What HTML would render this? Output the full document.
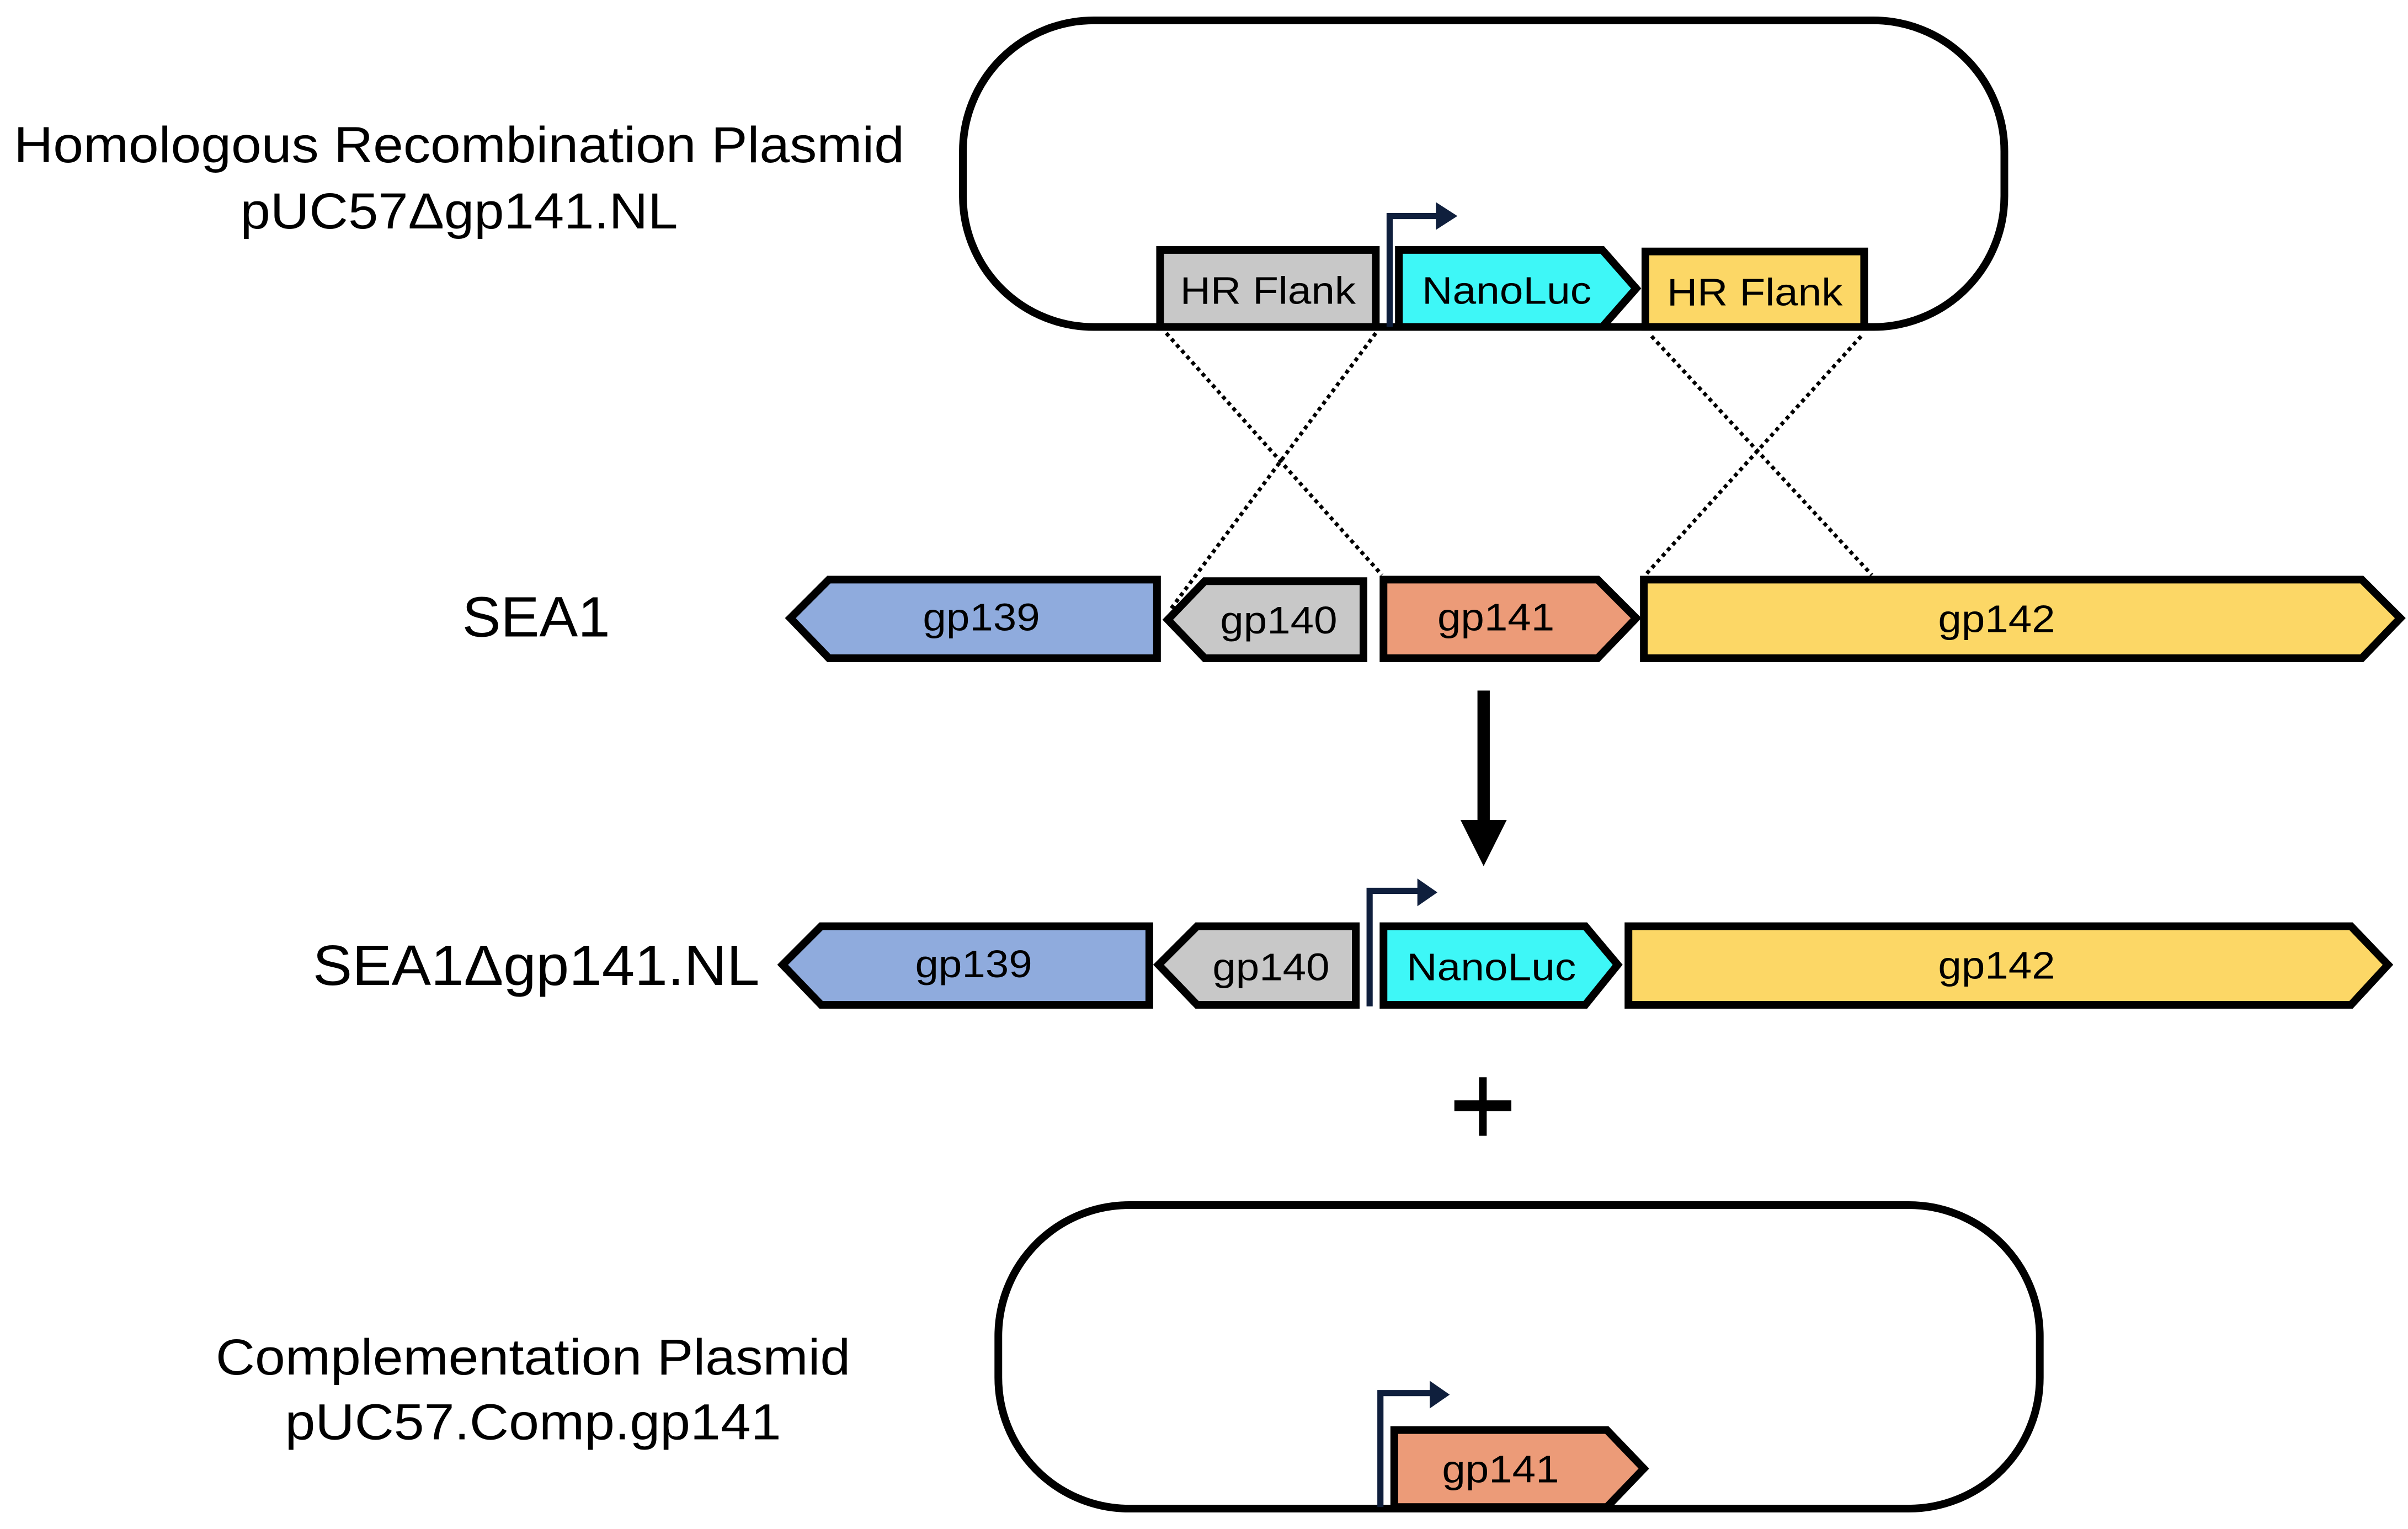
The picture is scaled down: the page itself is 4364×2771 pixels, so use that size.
<!DOCTYPE html>
<html><head><meta charset="utf-8"><style>
html,body{margin:0;padding:0;background:#fff;}
svg{display:block;}
text{font-family:"Liberation Sans",Arial,sans-serif;fill:#000;}
</style></head><body>
<svg width="4364" height="2771" viewBox="0 0 1563 992" xmlns="http://www.w3.org/2000/svg" font-family="Liberation Sans, Arial, sans-serif">
<rect x="0" y="0" width="1563" height="992" fill="#fff"/>
<g font-size="33" text-anchor="middle" font-family="Liberation Sans, Arial, sans-serif">
<text x="298" y="105" textLength="578" lengthAdjust="spacingAndGlyphs">Homologous Recombination Plasmid</text>
<text x="298" y="148" textLength="284" lengthAdjust="spacingAndGlyphs">pUC57Δgp141.NL</text>
<text x="346" y="892" textLength="412" lengthAdjust="spacingAndGlyphs">Complementation Plasmid</text>
<text x="346" y="934" textLength="322" lengthAdjust="spacingAndGlyphs">pUC57.Comp.gp141</text>
</g>
<text x="348" y="413" font-size="37" text-anchor="middle" textLength="96" lengthAdjust="spacingAndGlyphs">SEA1</text>
<text x="348" y="639" font-size="37" text-anchor="middle" textLength="290" lengthAdjust="spacingAndGlyphs">SEA1Δgp141.NL</text>

<rect x="625" y="13" width="676" height="199" rx="85" ry="85" fill="none" stroke="#000" stroke-width="5"/>
<g stroke="#000" stroke-width="5">
<rect x="753" y="162" width="140" height="50" fill="#c8c8c8"/>
<polygon points="908,162 1040,162 1062,187 1040,212 908,212" fill="#3ef7f7"/>
<rect x="1068" y="163" width="142" height="49" fill="#fcd766"/>
</g>
<path d="M902,212 V140 H935" fill="none" stroke="#0f1f3d" stroke-width="4"/>
<polygon points="932,131 946,140 932,149" fill="#0f1f3d"/>
<g font-size="25" text-anchor="middle">
<text x="823" y="197" textLength="114" lengthAdjust="spacingAndGlyphs">HR Flank</text>
<text x="978" y="197" textLength="110" lengthAdjust="spacingAndGlyphs">NanoLuc</text>
<text x="1139" y="198" textLength="114" lengthAdjust="spacingAndGlyphs">HR Flank</text>
</g>

<g stroke="#000" stroke-width="2.5" stroke-dasharray="2.5,2.5">
<line x1="757" y1="216" x2="897" y2="373"/>
<line x1="893" y1="216" x2="760" y2="395"/>
<line x1="1072" y1="218" x2="1215" y2="373"/>
<line x1="1208" y1="218" x2="1068" y2="373"/>
</g>

<g stroke="#000" stroke-width="5">
<polygon points="513,401 538,376 751,376 751,427 538,427" fill="#8fabdd"/>
<polygon points="758,402 782,377 885,377 885,427 782,427" fill="#c8c8c8"/>
<polygon points="898,376 1037,376 1062,401 1037,427 898,427" fill="#ec9b78"/>
<polygon points="1067,376 1533,376 1558,401 1533,427 1067,427" fill="#fcd766"/>
</g>
<g font-size="25" text-anchor="middle">
<text x="637" y="409" textLength="76" lengthAdjust="spacingAndGlyphs">gp139</text>
<text x="830" y="411" textLength="76" lengthAdjust="spacingAndGlyphs">gp140</text>
<text x="971" y="409" textLength="76" lengthAdjust="spacingAndGlyphs">gp141</text>
<text x="1296" y="410" textLength="76" lengthAdjust="spacingAndGlyphs">gp142</text>
</g>

<rect x="959" y="448" width="8" height="88" fill="#000"/>
<polygon points="948,532 978,532 963,562" fill="#000"/>

<g stroke="#000" stroke-width="5">
<polygon points="508,626 533,601 746,601 746,652 533,652" fill="#8fabdd"/>
<polygon points="752,626 777,601 880,601 880,652 777,652" fill="#c8c8c8"/>
<polygon points="898,601 1029,601 1050,626 1029,652 898,652" fill="#3ef7f7"/>
<polygon points="1057,601 1526,601 1550,626 1526,652 1057,652" fill="#fcd766"/>
</g>
<path d="M889,653 V578 H922" fill="none" stroke="#0f1f3d" stroke-width="4"/>
<polygon points="920,570 933,579 920,588" fill="#0f1f3d"/>
<g font-size="25" text-anchor="middle">
<text x="632" y="634" textLength="76" lengthAdjust="spacingAndGlyphs">gp139</text>
<text x="825" y="636" textLength="76" lengthAdjust="spacingAndGlyphs">gp140</text>
<text x="968" y="636" textLength="110" lengthAdjust="spacingAndGlyphs">NanoLuc</text>
<text x="1296" y="635" textLength="76" lengthAdjust="spacingAndGlyphs">gp142</text>
</g>

<rect x="960" y="699" width="5" height="38" fill="#000"/>
<rect x="944" y="714" width="37" height="7" fill="#000"/>

<rect x="648" y="782" width="676" height="197" rx="85" ry="85" fill="none" stroke="#000" stroke-width="5"/>
<polygon points="905,928 1043,928 1067,953 1043,978 905,978" fill="#ec9b78" stroke="#000" stroke-width="5"/>
<path d="M896,978 V904 H930" fill="none" stroke="#0f1f3d" stroke-width="4"/>
<polygon points="928,896 941,905 928,914" fill="#0f1f3d"/>
<text x="974" y="962" font-size="25" text-anchor="middle" textLength="76" lengthAdjust="spacingAndGlyphs">gp141</text>
</svg>
</body></html>
